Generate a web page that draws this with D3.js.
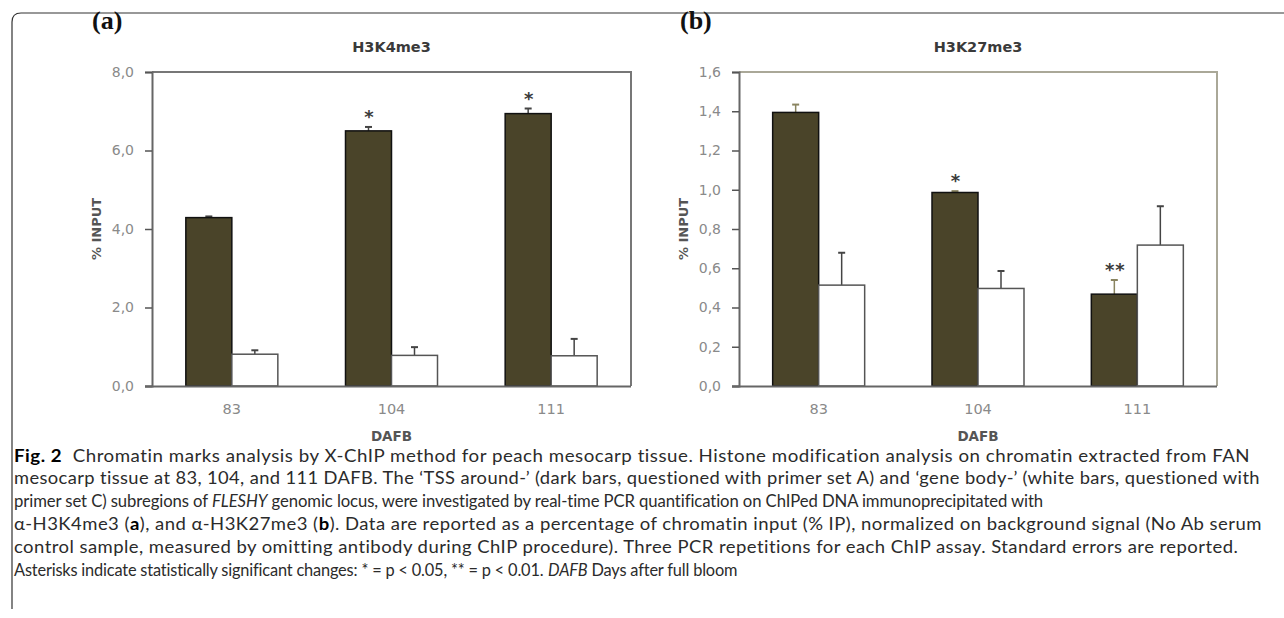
<!DOCTYPE html>
<html><head><meta charset="utf-8">
<script src="https://cdn.jsdelivr.net/npm/d3@7"></script>
<style>
body{margin:0;background:#fff;}
svg{display:block;}
</style></head>
<body>
<svg id="chart" width="1284" height="618"></svg>
<script>
const categories = ["83", "104", "111"];
const seriesNames = ["TSS around", "gene body"];
// Panel (a) H3K4me3
const h3k4Tss = [4.29, 6.50, 6.94];
const h3k4TssErr = [0.03, 0.10, 0.13];
const h3k4Body = [0.81, 0.78, 0.77];
const h3k4BodyErr = [0.10, 0.21, 0.43];
const h3k4Stars = ["", "*", "*"];
const h3k4Ticks = [0, 2, 4, 6, 8];
// Panel (b) H3K27me3
const h3k27Tss = [1.394, 0.986, 0.468];
const h3k27TssErr = [0.04, 0.007, 0.072];
const h3k27Body = [0.514, 0.497, 0.718];
const h3k27BodyErr = [0.165, 0.089, 0.198];
const h3k27Stars = ["", "*", "**"];
const h3k27Ticks = [0, 0.2, 0.4, 0.6, 0.8, 1.0, 1.2, 1.4, 1.6];

const svg = d3.select("#chart");
const fmt = v => d3.format(".1f")(v).replace(".", ",");
const axisFont = "DejaVu Sans, Verdana, sans-serif";

// outer frame
svg.append("path")
  .attr("d", "M12,609 L12,22 Q12,13 21,13 L1284,13")
  .attr("fill", "none").attr("stroke", "#333").attr("stroke-width", 1.2);

function panel(opt) {
  const g = svg.append("g");
  const x0 = d3.scaleBand().domain(categories).range([opt.left, opt.right]);
  const x1 = d3.scaleBand().domain(seriesNames).range([0, 92]);
  const y = d3.scaleLinear().domain([0, opt.max]).range([opt.bottom, opt.top]);

  g.append("path")
    .attr("d", `M${opt.left},${opt.top} L${opt.right},${opt.top} L${opt.right},${opt.bottom}`)
    .attr("fill", "none").attr("stroke", opt.frameColor).attr("stroke-width", 2);

  const rows = categories.map((c, i) => ({
    c,
    vals: [
      {s: seriesNames[0], v: opt.tss[i], e: opt.tssErr[i]},
      {s: seriesNames[1], v: opt.body[i], e: opt.bodyErr[i]}
    ],
    star: opt.stars[i]
  }));

  const grp = g.selectAll("g.cat").data(rows).join("g")
    .attr("transform", d => `translate(${x0(d.c) + x0.bandwidth() / 2 - 46},0)`);

  grp.selectAll("g.err").data(d => d.vals).join("g").each(function(d, j) {
    const gg = d3.select(this);
    const cx = x1(d.s) + x1.bandwidth() / 2;
    const col = (opt.errColors && j === 0) ? opt.errColors : "#444";
    gg.append("line").attr("x1", cx).attr("x2", cx)
      .attr("y1", y(d.v)).attr("y2", y(d.v + d.e))
      .attr("stroke", col).attr("stroke-width", 1.5);
    gg.append("line").attr("x1", cx - 3.5).attr("x2", cx + 3.5)
      .attr("y1", y(d.v + d.e)).attr("y2", y(d.v + d.e))
      .attr("stroke", col).attr("stroke-width", 2);
  });

  grp.selectAll("rect").data(d => d.vals).join("rect")
    .attr("x", d => x1(d.s))
    .attr("width", x1.bandwidth())
    .attr("y", d => y(d.v))
    .attr("height", d => y(0) - y(d.v))
    .attr("fill", (d, j) => j === 0 ? "#4a4429" : "#fff")
    .attr("stroke", (d, j) => j === 0 ? "#111" : "#555")
    .attr("stroke-width", 1.5);

  grp.append("text")
    .attr("x", x1.bandwidth() / 2 + 1)
    .attr("y", d => y(d.vals[0].v + d.vals[0].e) - 4)
    .attr("text-anchor", "middle")
    .attr("font-family", axisFont)
    .attr("font-size", 18).attr("font-weight", "bold")
    .attr("fill", "#3a3a3a")
    .attr("letter-spacing", 1)
    .text(d => d.star);

  const yAxis = d3.axisLeft(y).tickValues(opt.ticks).tickFormat(fmt).tickSize(7).tickPadding(11);
  const ya = g.append("g").attr("transform", `translate(${opt.left},0)`).call(yAxis);
  ya.select(".domain").attr("stroke", "#666").attr("stroke-width", 2);
  ya.selectAll(".tick line").attr("stroke", "#555").attr("stroke-width", 1.5);
  ya.selectAll(".tick text").attr("fill", "#8a8a8a")
    .attr("font-family", axisFont).attr("font-size", 14);

  const xAxis = d3.axisBottom(x0).tickSize(0).tickPadding(18);
  const xa = g.append("g").attr("transform", `translate(0,${opt.bottom})`).call(xAxis);
  xa.select(".domain").attr("d", `M${opt.left - 7},0.5H${opt.right}`).attr("stroke", "#666").attr("stroke-width", 2);
  xa.selectAll(".tick text").attr("fill", "#8a8a8a")
    .attr("font-family", axisFont).attr("font-size", 14.5);

  const cx = (opt.left + opt.right) / 2;
  g.append("text").attr("x", cx).attr("y", 52).attr("text-anchor", "middle")
    .attr("font-family", axisFont).attr("font-weight", "bold")
    .attr("font-size", 14.5).attr("fill", "#3a3a3a").text(opt.title);
  g.append("text").attr("x", cx).attr("y", 441).attr("text-anchor", "middle")
    .attr("font-family", axisFont).attr("font-weight", "bold")
    .attr("font-size", 13.5).attr("fill", "#555").text("DAFB");
  g.append("text")
    .attr("transform", `translate(${opt.ylabX},${(opt.top + opt.bottom) / 2}) rotate(-90)`)
    .attr("text-anchor", "middle")
    .attr("font-family", axisFont).attr("font-weight", "bold")
    .attr("font-size", 13).attr("fill", "#555").text("% INPUT");
  g.append("text").attr("x", opt.tagX).attr("y", 29)
    .attr("font-family", "Liberation Serif, Times New Roman, serif").attr("font-weight", "bold")
    .attr("font-size", 26).attr("fill", "#111").text(opt.tag);
}

panel({left: 152, right: 631, top: 72, bottom: 386, max: 8,
  tss: h3k4Tss, tssErr: h3k4TssErr, body: h3k4Body, bodyErr: h3k4BodyErr,
  stars: h3k4Stars, ticks: h3k4Ticks, title: "H3K4me3", frameColor: "#777",
  ylabX: 101, tag: "(a)", tagX: 92});

panel({left: 739, right: 1217, top: 72, bottom: 386, max: 1.6,
  tss: h3k27Tss, tssErr: h3k27TssErr, body: h3k27Body, bodyErr: h3k27BodyErr,
  stars: h3k27Stars, ticks: h3k27Ticks, title: "H3K27me3", frameColor: "#aaa898",
  ylabX: 688, tag: "(b)", tagX: 680, errColors: "#8a8460"});

// caption: segments per line; the width gap to the reference is split between glyph scaling and letter-spacing
const capFont = "Lato, Open Sans, sans-serif";
const captionLines = [
  [["b","Fig. 2"],["n","  Chromatin marks analysis by X-ChIP method for peach mesocarp tissue. Histone modification analysis on chromatin extracted from FAN"]],
  [["n","mesocarp tissue at 83, 104, and 111 DAFB. The ‘TSS around-’ (dark bars, questioned with primer set A) and ‘gene body-’ (white bars, questioned with"]],
  [["n","primer set C) subregions of "],["i","FLESHY"],["n"," genomic locus, were investigated by real-time PCR quantification on ChIPed DNA immunoprecipitated with"]],
  [["n","α-H3K4me3 ("],["b","a"],["n","), and α-H3K27me3 ("],["b","b"],["n","). Data are reported as a percentage of chromatin input (% IP), normalized on background signal (No Ab serum"]],
  [["n","control sample, measured by omitting antibody during ChIP procedure). Three PCR repetitions for each ChIP assay. Standard errors are reported."]],
  [["n","Asterisks indicate statistically significant changes: * = p ˂ 0.05, ** = p ˂ 0.01. "],["i","DAFB"],["n"," Days after full bloom"]]
];
const lineWidths = [1238, 1248, 1031, 1249, 1226, 723];
const cap = svg.append("g");
captionLines.forEach((ln, i) => {
  const yy = 461.5 + i * 22.8;
  const lg = cap.append("g");
  const segs = ln.map(([k, s]) => {
    const t = lg.append("text").attr("y", 0)
      .attr("font-family", capFont).attr("font-size", 17).attr("fill", "#2b2b2b")
      .style("white-space", "pre").text(s);
    if (k === "b") t.attr("font-weight", "bold").attr("fill", "#000");
    if (k === "i") t.attr("font-style", "italic");
    return {t, w: t.node().getComputedTextLength(), n: s.length};
  });
  const natural = d3.sum(segs, d => d.w);
  const chars = d3.sum(segs, d => d.n);
  const f = lineWidths[i] / natural;
  const gs = 1 + (f - 1) * 0.6;
  const ls = (lineWidths[i] / gs - natural) / chars;
  lg.attr("transform", `translate(14,${yy}) scale(${gs},1)`);
  let x = 0;
  segs.forEach(d => {
    d.t.attr("x", x).attr("letter-spacing", ls);
    x += d.w + ls * d.n;
  });
});
</script>
</body></html>
